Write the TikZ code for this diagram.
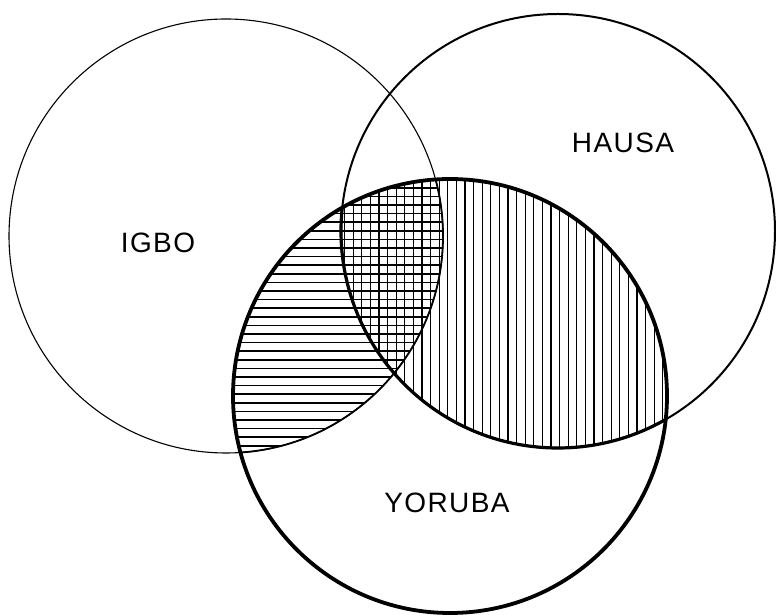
\documentclass[tikz,border=0pt]{standalone}
\usepackage{fontspec}
\setmainfont{Liberation Sans}
\newfontfamily\lblfont[LetterSpace=5]{Liberation Sans}
\begin{document}
\begin{tikzpicture}[x=1pt,y=1pt,
  lbl/.style={inner sep=0pt,font=\lblfont\fontsize{28}{28}\selectfont},
  hatchh/.style={line width=1.5pt},
  hatchv/.style={line width=1.2pt}]
\useasboundingbox (0,0) rectangle (776,615);
\def\R{217}
\coordinate (I) at (226,379);
\coordinate (H) at (558,384);
\coordinate (Y) at (450,219);
% horizontal hatch: IGBO and YORUBA
\begin{scope}
  \clip (I) circle (\R);
  \clip (Y) circle (\R);
  \foreach \k in {0,...,34} {
    \draw[hatchh] (220,{152+\k*8.6}) -- (460,{152+\k*8.6});
  }
\end{scope}
% vertical hatch: HAUSA and YORUBA
\begin{scope}
  \clip (H) circle (\R);
  \clip (Y) circle (\R);
  \foreach \k in {0,...,39} {
    \draw[hatchv] ({336+\k*8.6},150) -- ({336+\k*8.6},445);
  }
\end{scope}
% circles
\draw[line width=1.1pt] (I) circle (\R);
\draw[line width=2pt] (H) circle (\R);
\begin{scope}
  \clip (Y) circle (\R);
  \draw[line width=3.2pt] (H) circle (\R);
  \draw[line width=1.8pt] (I) circle (\R);
\end{scope}
\draw[line width=3.8pt] (Y) circle (\R);
% labels
\node[lbl] (igbo) at (158,372) {IGBO};
\node[lbl] (hausa) at (623,472) {HAUSA};
\node[lbl] (yoruba) at (447,112) {YORUBA};
\end{tikzpicture}
\end{document}
